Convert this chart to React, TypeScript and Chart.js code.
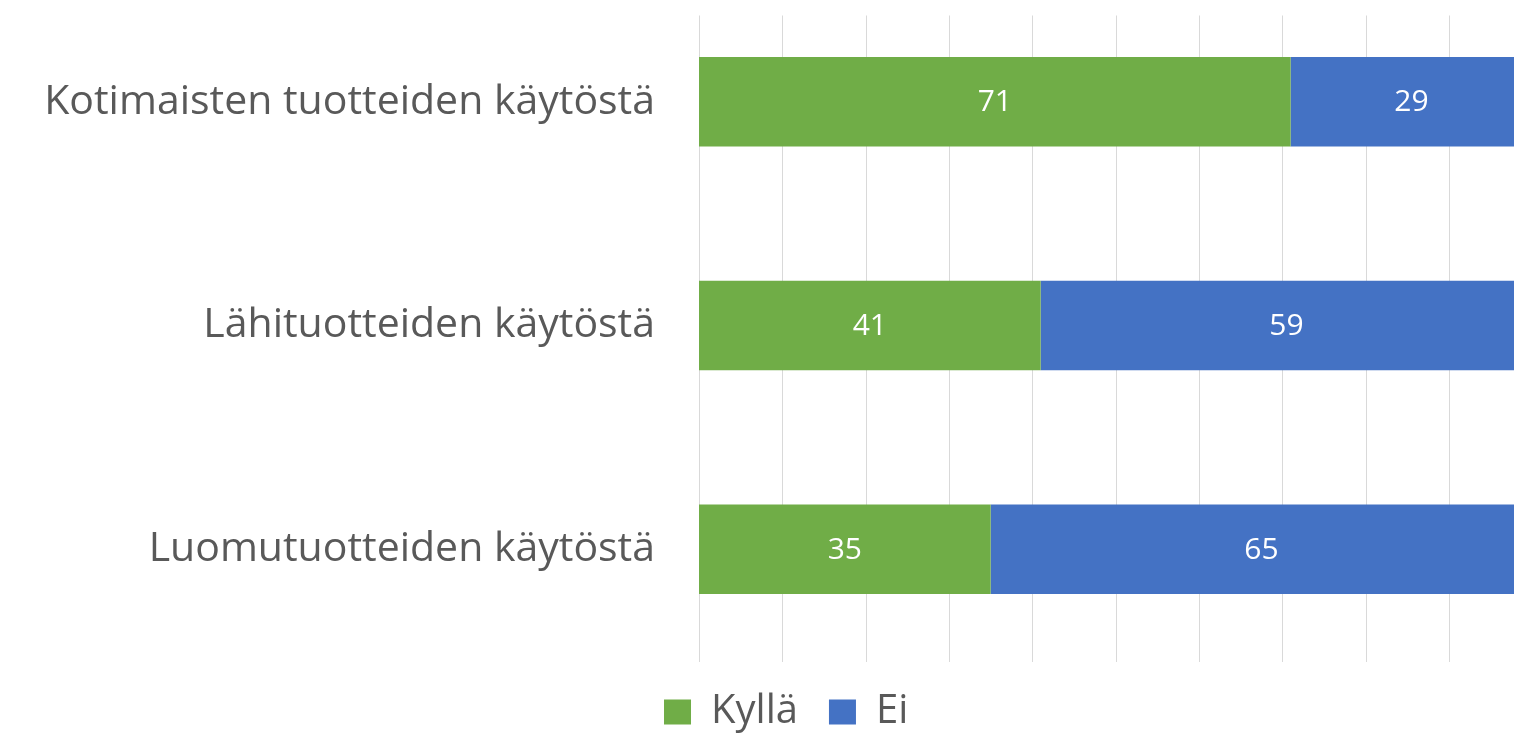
import React, { useEffect, useRef } from "react";
import { Chart, registerables } from "chart.js";

Chart.register(...registerables);

const categories = [
  "Kotimaisten tuotteiden käytöstä",
  "Lähituotteiden käytöstä",
  "Luomutuotteiden käytöstä",
];
const seriesNames = ["Kyllä", "Ei"];
const kyllaValues = [71, 41, 35];
const eiValues = [29, 59, 65];
const gridTicks = [0, 10, 20, 30, 40, 50, 60, 70, 80, 90, 100];

const GREEN = "#70AD47";
const BLUE = "#4472C4";
const TEXT = "#595959";
const FONT = "'Open Sans', 'Noto Sans', sans-serif";

const gridPlugin = {
  id: "customGrid",
  beforeDatasetsDraw(chart: any) {
    const { ctx, chartArea, scales } = chart;
    const x = scales.x;
    ctx.save();
    ctx.strokeStyle = "#D9D9D9";
    ctx.lineWidth = 1;
    gridTicks.forEach((t) => {
      const px = Math.round(x.getPixelForValue(t)) + 0.5;
      ctx.beginPath();
      ctx.moveTo(px, chartArea.top + 25.5);
      ctx.lineTo(px, chartArea.bottom + 1);
      ctx.stroke();
    });
    ctx.restore();
  },
};

const labelPlugin = {
  id: "segmentLabels",
  afterDatasetsDraw(chart: any) {
    const { ctx } = chart;
    ctx.save();
    ctx.fillStyle = "#FFFFFF";
    ctx.font = `30px ${FONT}`;
    ctx.textAlign = "center";
    ctx.textBaseline = "middle";
    chart.data.datasets.forEach((ds: any, i: number) => {
      const meta = chart.getDatasetMeta(i);
      meta.data.forEach((bar: any, j: number) => {
        const { x, y, base } = bar.getProps(["x", "y", "base"], true);
        ctx.fillText(String(ds.data[j]), (x + base) / 2, y + 1);
      });
    });
    ctx.restore();
  },
};

export default function App() {
  const canvasRef = useRef<HTMLCanvasElement | null>(null);

  useEffect(() => {
    if (!canvasRef.current) return;
    Chart.defaults.font.family = FONT;
    const chart = new Chart(canvasRef.current, {
      type: "bar",
      data: {
        labels: categories,
        datasets: [
          {
            label: seriesNames[0],
            data: kyllaValues,
            backgroundColor: GREEN,
            borderWidth: 0,
            barPercentage: 0.5,
            categoryPercentage: 0.8,
          },
          {
            label: seriesNames[1],
            data: eiValues,
            backgroundColor: BLUE,
            borderWidth: 0,
            barPercentage: 0.5,
            categoryPercentage: 0.8,
          },
        ],
      },
      options: {
        indexAxis: "y",
        responsive: false,
        animation: false,
        devicePixelRatio: 1,
        layout: { padding: { top: 80, left: 40, right: 7.7, bottom: 0 } },
        scales: {
          x: {
            stacked: true,
            min: 0,
            max: 100,
            display: false,
          },
          y: {
            stacked: true,
            grid: { display: false, drawTicks: false },
            border: { display: false },
            ticks: {
              padding: 44,
              color: TEXT,
              font: { size: 41, family: FONT },
            },
            afterFit(scale: any) {
              scale.width = 659;
            },
          },
        },
        plugins: {
          legend: {
            position: "bottom",
            labels: {
              boxWidth: 27,
              boxHeight: 25,
              padding: 31,
              color: TEXT,
              font: { size: 40, family: FONT },
            },
          },
          tooltip: { enabled: false },
        },
      },
      plugins: [gridPlugin, labelPlugin],
    } as any);
    return () => chart.destroy();
  }, []);

  return (
    <div
      style={{
        position: "fixed",
        left: 0,
        top: 0,
        width: 1514,
        height: 735,
        overflow: "hidden",
        background: "#FFFFFF",
      }}
    >
      <canvas
        ref={canvasRef}
        width={1540}
        height={832}
        style={{ position: "absolute", left: 0, top: -90.5, width: 1540, height: 832 }}
      />
    </div>
  );
}
